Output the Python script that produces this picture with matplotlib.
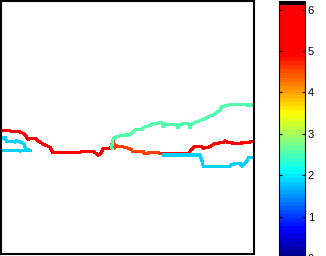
import numpy as np
import matplotlib
matplotlib.use("Agg")
import matplotlib.pyplot as plt
from matplotlib.colors import ListedColormap, Normalize
from matplotlib.cm import ScalarMappable

# ---- data (plot coordinates, y downwards) ----
red_a_x = [1.7, 10, 11.7, 19.3, 20.7, 23.3, 25, 26.7, 28.3, 31.7, 35, 36.7, 38.3, 40, 43.3, 46.7, 50, 51.7, 52.3, 80, 81.7, 93.3, 96, 98.3, 100.7, 102.7, 103.3, 110, 111.7]
red_a_y = [130.7, 130.7, 131.7, 131.7, 132.3, 133.3, 135, 137.3, 139.3, 138.3, 138.3, 139.3, 141, 142.3, 144, 145.7, 147.3, 150, 152.3, 152.3, 151.3, 151.3, 153.3, 155, 153.3, 149.3, 148.3, 148.3, 145]

orange_x = [111.7, 112.7, 114, 115, 116.7, 121.7, 125, 128.3, 131.7, 132.7, 143.3, 144, 153.3, 165]
orange_y = [145, 140.7, 143.3, 147.3, 146, 146.7, 147.3, 148.3, 150, 151.7, 151.7, 153.3, 152.7, 153.3]

red_e_x = [163, 189.3, 190.7, 194, 201.7, 203.3, 210, 215, 223.3, 225, 228.3, 236.7, 246.7, 251.7, 254]
red_e_y = [153.3, 153.3, 150, 146.7, 146.7, 148.3, 146.7, 143.3, 142.7, 140.7, 142.7, 143.3, 142.7, 141.7, 141]

cyan_c_x = [2, 5.5, 6.5, 15, 16.5, 18, 21.5, 23.5, 24.5, 25.5, 26.5, 31, 20, 10, 2]
cyan_c_y = [138, 138, 141.5, 142, 140.5, 141.5, 142.5, 143.5, 145.5, 148, 149.5, 150.5, 151, 150.5, 150.5]

cyan_d_x = [164, 200, 201.7, 203.3, 220, 230, 231.7, 240, 241.7, 243.3, 246.7, 248.3, 254]
cyan_d_y = [155, 155, 160, 166.7, 166.7, 166, 164.3, 163.3, 166, 164.3, 161.7, 157.7, 157.7]

green_x = [111.7, 112.3, 113.3, 116.7, 120, 125, 128, 131.7, 133, 135, 141.7, 143, 145, 150, 153, 157, 161.7, 163, 165, 170, 176.7, 178, 180, 185, 188, 190, 191.7, 196.7, 201.7, 206.7, 210, 213, 220, 221.7, 231.7, 240, 246.7, 254]
green_y = [148, 141.7, 138.3, 136.7, 135.7, 135, 135, 133, 131.7, 130, 129, 127.7, 126.7, 125.7, 123.3, 123.3, 122.3, 127, 124, 124.3, 125, 128, 125, 123.3, 123.3, 128, 124, 121.7, 120, 117.7, 115.7, 115, 110, 106.7, 104.3, 104.3, 105, 105]

line_values = [5.5, 4.55, 5.5, 1.85, 1.85, 2.55]
cbar_ticks = [0, 1, 2, 3, 4, 5, 6]
vmin, vmax = 0.0, 6.2


# ---- colormap: MATLAB-style jet, pure red tail, black top level ----
def mjet(f):
    r = np.clip(1.5 - abs(4 * f - 3), 0, 1)
    g = np.clip(1.5 - abs(4 * f - 2), 0, 1)
    b = np.clip(1.5 - abs(4 * f - 1), 0, 1)
    return (float(r), float(g), float(b), 1.0)


n = 64
cols = []
for i in range(n):
    v = (i + 0.5) * (vmax - vmin) / n
    if i == n - 1:
        cols.append((0, 0, 0, 1))
    else:
        cols.append(mjet(min(v / 5.6, 0.875)))
cmap = ListedColormap(cols)
norm = Normalize(vmin, vmax)


def line_color(v):
    return mjet(min(v / 5.6, 0.875))


W, H = 326, 256
fig = plt.figure(figsize=(W / 100, H / 100), dpi=100)
ax = fig.add_axes([1 / W, 2 / H, 253 / W, 253 / H])
ax.set_xlim(1, 254)
ax.set_ylim(254, 1)
ax.set_xticks([])
ax.set_yticks([])
for s in ax.spines.values():
    s.set_linewidth(1.5)

series = [(red_a_x, red_a_y), (orange_x, orange_y), (red_e_x, red_e_y),
          (cyan_c_x, cyan_c_y), (cyan_d_x, cyan_d_y), (green_x, green_y)]
for (xs, ys), val in zip(series, line_values):
    ax.plot(xs, ys, color=line_color(val), lw=1.5, antialiased=False,
            solid_joinstyle="miter")

# colorbar: spans value 0 (y=258 px, below figure) to 6.2 (y=1.3 px)
top_px, bot_px = 1.3, 258.0
cax = fig.add_axes([279 / W, (H - bot_px) / H, 26 / W, (bot_px - top_px) / H])
cb = fig.colorbar(ScalarMappable(norm=norm, cmap=cmap), cax=cax)
cb.set_ticks(cbar_ticks)
cb.outline.set_linewidth(0.8)
cax.tick_params(axis="y", direction="in", length=2.5, width=0.8, left=True, right=True,
                labelsize=8, pad=2)
for lab in cax.get_yticklabels():
    lab.set_fontfamily("Liberation Sans")

fig.savefig("out.png", dpi=100)
